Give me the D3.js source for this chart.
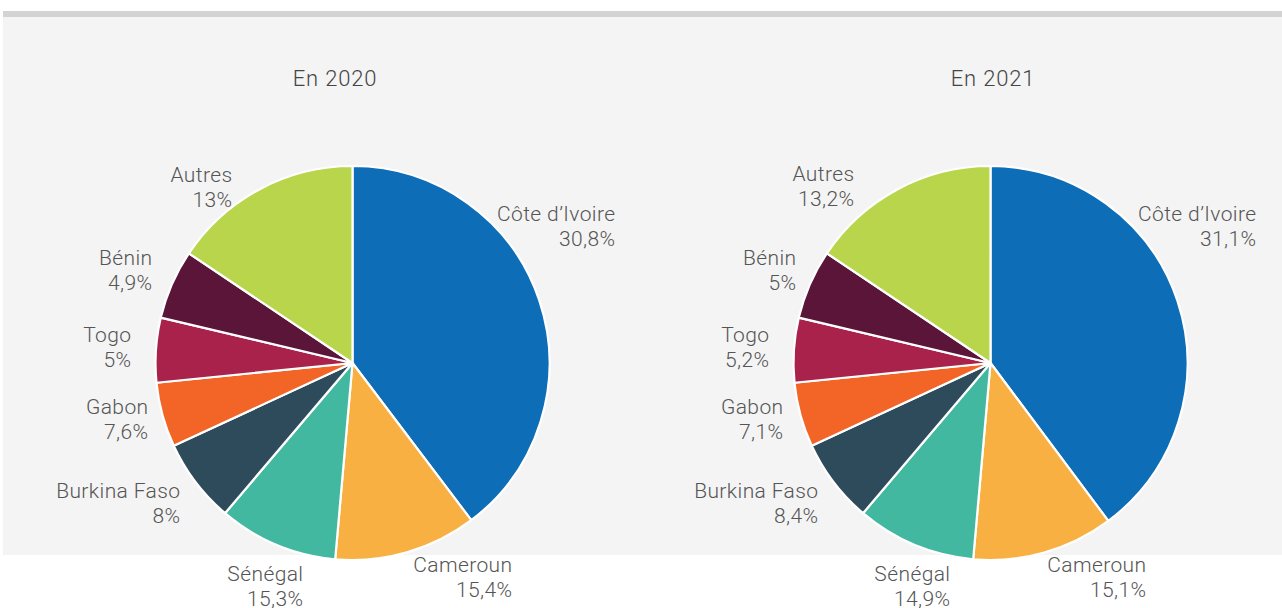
<!DOCTYPE html>
<html>
<head>
<meta charset="utf-8">
<script src="https://cdn.jsdelivr.net/npm/d3@7"></script>
<style>
  body { margin: 0; background: #fff; }
  svg { display: block; }
  text { font-family: Roboto, "Noto Sans", sans-serif; fill: #555; }
</style>
</head>
<body>
<div id="chart"></div>
<script>
// Countries, in drawing order (clockwise from 12 o'clock)
const countries = ["Côte d’Ivoire", "Cameroun", "Sénégal", "Burkina Faso", "Gabon", "Togo", "Bénin", "Autres"];

// Slice sizes as drawn in the picture (share of the circle, %)
const slices2020 = [39.7, 11.7, 9.8, 6.9, 5.3, 5.3, 5.7, 15.6];
const slices2021 = [39.8, 11.6, 9.8, 6.9, 5.3, 5.3, 5.7, 15.6];

// Percentages printed on the labels
const labels2020 = ["30,8%", "15,4%", "15,3%", "8%", "7,6%", "5%", "4,9%", "13%"];
const labels2021 = ["31,1%", "15,1%", "14,9%", "8,4%", "7,1%", "5,2%", "5%", "13,2%"];

const titles = ["En 2020", "En 2021"];

const colours = ["#0d6db7", "#f9b042", "#43b8a0", "#2e4b5c", "#f26527", "#a9224c", "#5a1539", "#b8d54c"];

// label anchors (right edge, first baseline) relative to pie centre
const labelPos2020 = [[263, -142], [160, 209], [-49, 218], [-172, 135], [-204, 51], [-221, -21], [-200, -98], [-120, -181]];
const labelPos2021 = [[266, -142], [156, 209], [-40, 218], [-172, 135], [-207, 51], [-221, -21], [-194, -98], [-136, -182]];

const W = 1282, H = 608;
const svg = d3.select("#chart").append("svg").attr("width", W).attr("height", H);

// panel background + top rule
svg.append("rect").attr("x", 3).attr("y", 17).attr("width", W - 3).attr("height", 538).attr("fill", "#f4f4f4");
svg.append("rect").attr("x", 3).attr("y", 11).attr("width", W - 3).attr("height", 6).attr("fill", "#d3d3d3");

const radius = 197;
const pie = d3.pie().sort(null).value(d => d);
const arc = d3.arc().innerRadius(0).outerRadius(radius);

const charts = [
    {cx: 352.5, cy: 363, title: titles[0], titleX: 335, slices: slices2020, labels: labels2020, pos: labelPos2020},
    {cx: 990.5, cy: 363, title: titles[1], titleX: 993, slices: slices2021, labels: labels2021, pos: labelPos2021}
];

charts.forEach(c => {
    svg.append("text")
        .attr("x", c.titleX).attr("y", 86)
        .attr("text-anchor", "middle")
        .style("font-size", "22px")
        .style("font-weight", 300)
        .style("letter-spacing", "0.8px")
        .style("fill", "#444")
        .text(c.title);

    const g = svg.append("g").attr("transform", `translate(${c.cx},${c.cy})`);

    g.selectAll("path").data(pie(c.slices)).enter().append("path")
        .attr("d", arc)
        .attr("fill", (d, i) => colours[i])
        .attr("stroke", "#fff")
        .attr("stroke-width", 2.2)
        .attr("stroke-linejoin", "round");

    const lab = g.selectAll("text.lab").data(countries).enter().append("text")
        .attr("class", "lab")
        .attr("text-anchor", "end")
        .style("font-size", "21px")
        .style("font-weight", 300)
        .style("letter-spacing", "0.4px");
    lab.append("tspan")
        .attr("x", (d, i) => c.pos[i][0]).attr("y", (d, i) => c.pos[i][1])
        .text(d => d);
    lab.append("tspan")
        .attr("x", (d, i) => c.pos[i][0]).attr("y", (d, i) => c.pos[i][1] + 24.5)
        .text((d, i) => c.labels[i]);
});
</script>
</body>
</html>
